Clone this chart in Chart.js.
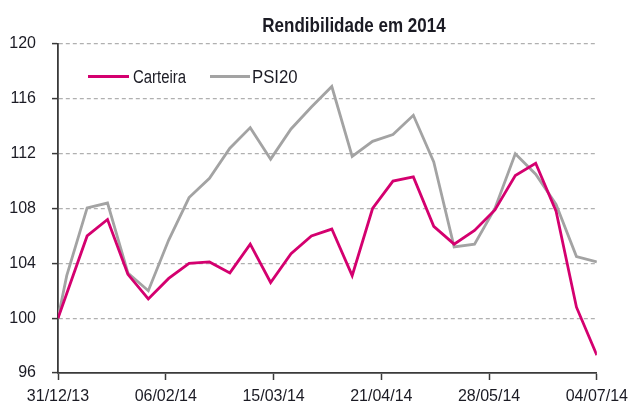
<!DOCTYPE html>
<html>
<head>
<meta charset="utf-8">
<script src="https://cdn.jsdelivr.net/npm/chart.js@4.4.1/dist/chart.umd.min.js"></script>
<style>
  html, body { margin: 0; padding: 0; background: #ffffff; }
  #wrap { position: relative; width: 635px; height: 406px; overflow: hidden; }
  #c { position: absolute; left: 0; top: 0; }
  .txt { font-family: "Liberation Sans", Arial, sans-serif; color: #1b1b24; }
  #title { position: absolute; left: 204px; width: 300px; top: 14px; text-align: center;
           font-size: 21px; line-height: 21px; font-weight: bold; white-space: nowrap;
           transform: scaleX(0.81); transform-origin: 150px 0; }
  .lg-line { position: absolute; height: 3px; }
  .lg-text { position: absolute; font-size: 18px; line-height: 18px; white-space: nowrap;
             transform-origin: 0 0; }
</style>
</head>
<body>
<div id="wrap">
  <canvas id="c" width="635" height="406"></canvas>
  <div id="title" class="txt">Rendibilidade em 2014</div>
  <div id="lg1" class="lg-line" style="left:88px; top:75px; width:41px;"></div>
  <div id="lgt1" class="lg-text txt" style="left:133px; top:68px; transform: scaleX(0.83);"></div>
  <div id="lg2" class="lg-line" style="left:210px; top:75px; width:40px;"></div>
  <div id="lgt2" class="lg-text txt" style="left:252px; top:68px; transform: scaleX(0.93);"></div>
</div>
<script>
// ---- data ----
const dates = ['31/12/13','03/01/14','10/01/14','17/01/14','24/01/14','31/01/14','07/02/14','14/02/14',
  '21/02/14','28/02/14','07/03/14','14/03/14','21/03/14','28/03/14','04/04/14','11/04/14','18/04/14',
  '25/04/14','02/05/14','09/05/14','16/05/14','23/05/14','30/05/14','06/06/14','13/06/14','20/06/14',
  '27/06/14','04/07/14'];
const carteira = [100, 101.8, 106.0, 107.2, 103.2, 101.4, 102.9, 104.0, 104.1, 103.3, 105.4, 102.6,
  104.7, 106.0, 106.5, 103.1, 108.0, 110.0, 110.3, 106.7, 105.4, 106.4, 107.9, 110.4, 111.3, 107.8,
  100.8, 97.3];
const psi20 = [100, 103.1, 108.05, 108.4, 103.3, 102.0, 105.7, 108.8, 110.2, 112.4, 113.9, 111.6,
  113.8, 115.4, 116.9, 111.8, 112.9, 113.4, 114.8, 111.4, 105.2, 105.4, 108.0, 112.0, 110.5, 108.3,
  104.5, 104.1];
const xTickLabels = ['31/12/13','06/02/14','15/03/14','21/04/14','28/05/14','04/07/14'];
const yTicks = [96, 100, 104, 108, 112, 116, 120];
const seriesNames = ['Carteira', 'PSI20'];
const seriesColors = ['#d4006f', '#a3a3a3'];

// ---- helpers ----
function dayOffset(s) {
  const [d, m, y] = s.split('/').map(Number);
  const t = Date.UTC(2000 + y, m - 1, d);
  const t0 = Date.UTC(2013, 11, 31);
  return Math.round((t - t0) / 86400000);
}
const xs = dates.map(dayOffset);
const xTickVals = xTickLabels.map(dayOffset);
const toPts = arr => arr.map((v, i) => ({ x: xs[i], y: v }));

document.getElementById('lg1').style.background = seriesColors[0];
document.getElementById('lg2').style.background = seriesColors[1];
document.getElementById('lgt1').textContent = seriesNames[0];
document.getElementById('lgt2').textContent = seriesNames[1];

const tickFont = { family: '"Liberation Sans", Arial, sans-serif', size: 16 };
const textColor = '#1b1b24';
const axisColor = '#3a3a3a';

new Chart(document.getElementById('c'), {
  type: 'line',
  data: {
    datasets: [
      { label: seriesNames[1], data: toPts(psi20), borderColor: seriesColors[1], borderWidth: 2.8,
        pointRadius: 0, tension: 0, fill: false, order: 2 },
      { label: seriesNames[0], data: toPts(carteira), borderColor: seriesColors[0], borderWidth: 2.8,
        pointRadius: 0, tension: 0, fill: false, order: 1 }
    ]
  },
  options: {
    responsive: false,
    animation: false,
    devicePixelRatio: 1,
    layout: { padding: { top: 44, right: 35, bottom: 0, left: 0 } },
    plugins: { legend: { display: false }, title: { display: false }, tooltip: { enabled: false } },
    scales: {
      x: {
        type: 'linear',
        min: xTickVals[0],
        max: xTickVals[xTickVals.length - 1],
        afterBuildTicks: s => { s.ticks = xTickVals.map(v => ({ value: v })); },
        afterFit: s => { s.height = 33; },
        ticks: {
          autoSkip: false, maxRotation: 0, padding: 7, color: textColor, font: tickFont,
          callback: v => { const i = xTickVals.indexOf(v); return i >= 0 ? xTickLabels[i] : ''; }
        },
        grid: { drawOnChartArea: false, drawTicks: true, tickLength: 7, tickColor: axisColor, tickWidth: 1.5 },
        border: { display: true, color: axisColor, width: 1.8 }
      },
      y: {
        min: yTicks[0],
        max: yTicks[yTicks.length - 1],
        afterBuildTicks: s => { s.ticks = yTicks.map(v => ({ value: v })); },
        afterFit: s => { s.width = 58; },
        ticks: { padding: 16, color: textColor, font: tickFont },
        grid: {
          color: c => (c.tick && c.tick.value === yTicks[0]) ? 'rgba(0,0,0,0)' : '#b0b0b0',
          lineWidth: 1.2, tickLength: 6, tickColor: axisColor, tickWidth: 1.5, tickBorderDash: []
        },
        border: { display: true, color: axisColor, width: 1.8, dash: [4, 3] }
      }
    }
  }
});
</script>
</body>
</html>
